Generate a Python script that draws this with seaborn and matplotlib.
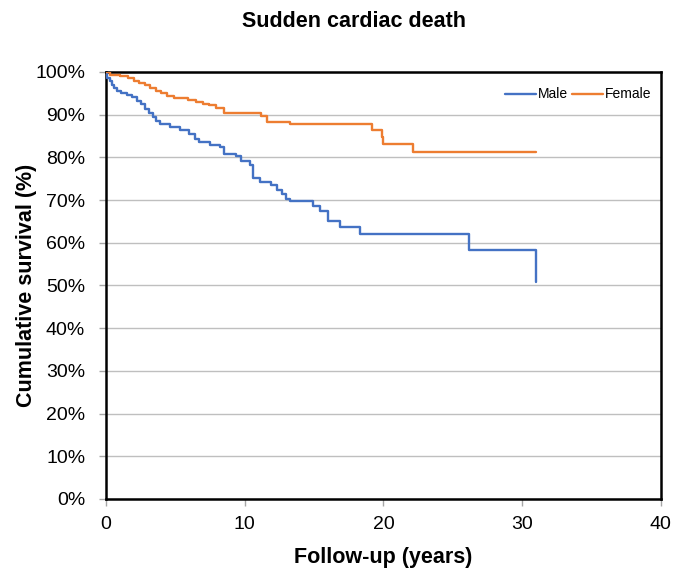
import pandas as pd
import matplotlib
matplotlib.use("Agg")
import matplotlib.pyplot as plt
import seaborn as sns

# Kaplan-Meier step points (years, % surviving)
male_t = [0, 0.1, 0.3, 0.4, 0.6, 0.8, 1.1, 1.5, 1.9, 2.2, 2.5, 2.8, 3.1, 3.4, 3.6,
          3.9, 4.6, 5.3, 6.0, 6.4, 6.7, 7.5, 8.2, 8.5, 9.4, 9.7, 10.4, 10.6, 11.1,
          11.9, 12.3, 12.7, 13.0, 13.3, 14.9, 15.4, 16.0, 16.9, 18.3, 26.2, 30.95, 31.0]
male_s = [100, 98.6, 97.8, 97.0, 96.3, 95.6, 95.0, 94.6, 94.1, 93.1, 92.4, 91.4, 90.5,
          89.4, 88.6, 87.8, 87.2, 86.4, 85.4, 84.4, 83.6, 83.0, 82.4, 80.8, 80.3, 79.2,
          78.3, 75.1, 74.2, 73.5, 72.4, 71.4, 70.3, 69.7, 68.6, 67.4, 65.1, 63.6, 62.1,
          58.3, 58.3, 50.9]

female_t = [0, 0.3, 1.0, 1.6, 2.0, 2.4, 2.8, 3.2, 3.6, 4.0, 4.4, 4.9, 5.9, 6.5, 7.0,
            7.4, 7.9, 8.5, 11.2, 11.6, 13.3, 19.2, 19.9, 20.0, 22.1, 31.0]
female_s = [100, 99.4, 99.0, 98.5, 98.0, 97.4, 96.9, 96.3, 95.6, 95.0, 94.3, 93.8, 93.5,
            93.0, 92.6, 92.2, 91.5, 90.4, 89.8, 88.4, 87.8, 86.3, 84.7, 83.1, 81.2, 81.2]

df = pd.concat([
    pd.DataFrame({"t": male_t, "s": male_s, "sex": "Male"}),
    pd.DataFrame({"t": female_t, "s": female_s, "sex": "Female"}),
])

sns.set_style("white")
plt.rcParams['font.family'] = ['Liberation Sans', 'DejaVu Sans']
plt.rcParams['text.color'] = 'black'
plt.rcParams['axes.labelcolor'] = 'black'
plt.rcParams['xtick.color'] = 'black'
plt.rcParams['ytick.color'] = 'black'

fig = plt.figure(figsize=(6.73, 5.75), dpi=100)
ax = fig.add_axes([0.1575, 0.1322, 0.8245, 0.7426])

sns.lineplot(data=df, x="t", y="s", hue="sex", palette={"Male": "#4472C4", "Female": "#ED7D31"},
             estimator=None, sort=False, drawstyle="steps-post", linewidth=1.7, ax=ax, zorder=3)

ax.set_xlim(0, 40)
ax.set_ylim(0, 100)
ax.set_xticks(range(0, 41, 10))
ax.set_yticks(range(0, 101, 10))
ax.set_yticklabels([f"{v}%" for v in range(0, 101, 10)])
ax.tick_params(axis="both", labelsize=14, length=5, width=1, color="#a6a6a6", labelcolor="black",
               direction="out", left=True, bottom=True)
ax.tick_params(axis="y", pad=10)
ax.tick_params(axis="x", pad=7)
ax.yaxis.grid(True, color="#bfbfbf", linewidth=1)
ax.xaxis.grid(False)
for sp in ax.spines.values():
    sp.set_color("black")
    sp.set_linewidth(1.8)

ax.set_xlabel("Follow-up (years)", fontsize=15.5, fontweight="bold", labelpad=10)
ax.set_ylabel("Cumulative survival (%)", fontsize=15.5, fontweight="bold", labelpad=-1)
fig.text(0.526, 0.963, "Sudden cardiac death", fontsize=15.5, fontweight="bold", ha="center", va="center")

ax.legend(loc="upper right", bbox_to_anchor=(1.005, 0.993), ncol=2, frameon=False, fontsize=10,
          handlelength=2.2, handletextpad=0.15, columnspacing=0.3, title=None)

fig.savefig("out.png", dpi=100)
